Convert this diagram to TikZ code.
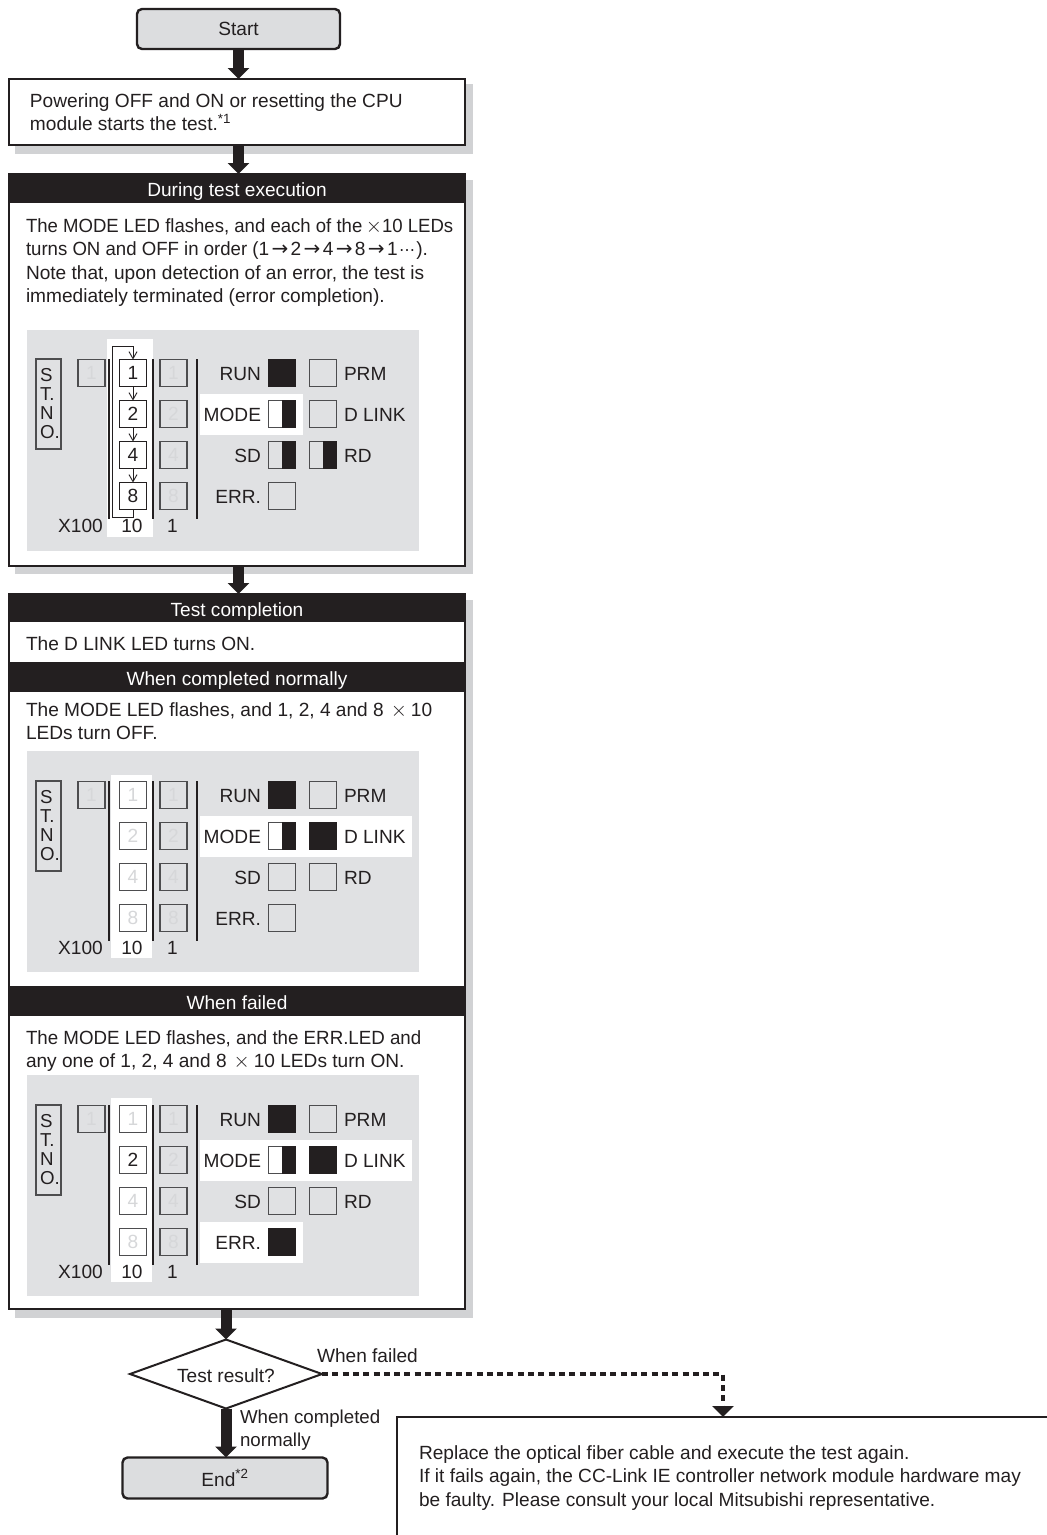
\documentclass[tikz,border=0pt]{standalone}
\usepackage{fontspec}
\setmainfont{Liberation Sans}
\newfontfamily\dejafont{DejaVu Sans}
\usetikzlibrary{shapes.geometric,arrows.meta}
\definecolor{ink}{HTML}{231F20}
\definecolor{shadowgray}{HTML}{D1D2D4}
\definecolor{panelgray}{HTML}{E0E1E3}
\definecolor{startgray}{HTML}{DCDDDF}
\definecolor{faintnum}{HTML}{D6D7D9}
\definecolor{faintline}{HTML}{4D4D4F}
\newcommand{\bigtimes}{{\fontsize{20}{20}\selectfont$\times$}}
\newcommand{\tinyarrow}{\makebox[21.5pt]{\dejafont\fontsize{20}{20}\selectfont →}}
\newcommand{\squeezed}[2]{\scalebox{#1}[1]{#2}}
\tikzset{
  every node/.style={inner sep=0pt,outer sep=0pt,text=ink,font=\fontsize{19.1}{23.4}\selectfont},
  terminal/.style={draw=ink,line width=2.4pt,fill=startgray,rounded corners=5pt,minimum width=203pt,minimum height=40pt},
  plainbox/.style={draw=ink,line width=2.4pt,fill=white,minimum width=456pt},
  header/.style={fill=ink,text=white,minimum width=458pt,minimum height=30pt,text height=17pt,text depth=0pt},
  bodytext/.style={anchor=north west,align=left},
  bigarrow/.style={draw=ink,line width=11pt,-{Triangle[length=11pt,width=21pt,fill=ink]}},
  dotarrow/.style={draw=ink,line width=4.5pt,dash pattern=on 6pt off 4.3pt,-{Triangle[length=11pt,width=21pt,fill=ink]}},
  ledbox/.style={draw=#1,line width=1.2pt,minimum width=27pt,minimum height=27pt,text height=13.7pt,text depth=0pt},
  ledbox/.default=faintline,
  lbl/.style={anchor=base east},
  lblr/.style={anchor=base west},
  divider/.style={draw=ink,line width=1.2pt},
  loopline/.style={draw=ink,line width=0.9pt},
  looparrow/.style={draw=ink,line width=0.9pt,-{Straight Barb[length=7pt,width=8pt]}},
}
\newcommand{\ledoff}[3]{\node[ledbox=faintline] (#1) at (#2,#3) {};}
\newcommand{\ledon}[3]{\node[ledbox=ink,fill=ink] (#1) at (#2,#3) {};}
\newcommand{\ledhalf}[3]{\node[ledbox=faintline] (#1) at (#2,#3) {};\fill[ink] (#2,#3-14) rectangle (#2+14,#3+14);}
\newcommand{\ledface}[6]{%
  \node[draw=faintline,line width=1.2pt,minimum width=25pt,minimum height=90pt,align=left,text width=17pt,font=\fontsize{18.7}{19}\selectfont] (#1st) at (48.5,45) {S\\T.\\N\\O.};
  \node[ledbox,text=faintnum] (#1h) at (91.5,14) {1};
  \foreach \n/\r/\c in {1/0/#2,2/1/#3,4/2/#4,8/3/#5}{
    \node[ledbox=#6,text=\c] (#1t\n) at (133,14+41*\r) {\n};
    \node[ledbox,text=faintnum] (#1u\n) at (173.5,14+41*\r) {\n};
  }
  \coordinate (#1a) at (109,0); \coordinate (#1b) at (109,160);
  \coordinate (#1c) at (153,0); \coordinate (#1d) at (153,160);
  \coordinate (#1e) at (197,0); \coordinate (#1f) at (197,160);
  \draw[divider] (#1a)--(#1b); \draw[divider] (#1c)--(#1d); \draw[divider] (#1e)--(#1f);
  \node[lbl] (#1l1) at (261,21.2) {RUN};
  \node[lbl] (#1l2) at (261,62.2) {MODE};
  \node[lbl] (#1l3) at (261,103.2) {SD};
  \node[lbl] (#1l4) at (261,144.2) {ERR.};
  \node[lblr] (#1r1) at (344,21.2) {PRM};
  \node[lblr] (#1r2) at (344,62.2) {D LINK};
  \node[lblr] (#1r3) at (344,103.2) {RD};
  \node[anchor=base] (#1x) at (80.5,173.5) {X100};
  \node[anchor=base] (#1y) at (132,173.5) {10};
  \node[anchor=base] (#1z) at (172.5,173.5) {1};
}
\begin{document}
\begin{tikzpicture}[x=1pt,y=-1pt]
\useasboundingbox (0,0) rectangle (1047,1535);
\clip (0,0) rectangle (1047,1535);
\fill[white] (0,0) rectangle (1047,1535);
% shadows
\fill[shadowgray] (15,84) rectangle (473,154);
\fill[shadowgray] (15,180) rectangle (473,574);
\fill[shadowgray] (15,600) rectangle (473,1318);
% main boxes
\node[terminal] (start) at (238.5,29) {Start};
\node[plainbox,minimum height=66pt] (power) at (237,112) {};
\node[plainbox,minimum height=392pt] (during) at (237,370) {};
\node[plainbox,minimum height=715pt] (test) at (237,951.5) {};
\node[header] (h1) at (237,188) {During test execution};
\node[header,minimum height=29pt] (h2) at (237,607.5) {Test completion};
\node[header] (h3) at (237,677) {When completed normally};
\node[header] (h4) at (237,1001) {When failed};
% body text
\node[bodytext] (t1) at (30,93.5) {Powering OFF and ON or resetting the CPU\\module starts the test.\textsuperscript{*1}};
\node[bodytext] (t2) at (26,218.5) {\squeezed{.972}{The MODE LED flashes, and each of the}\hspace{3.5pt}\bigtimes\squeezed{.972}{10 LEDs}\\\squeezed{.974}{turns ON and OFF in order (}1\tinyarrow 2\tinyarrow 4\tinyarrow 8\tinyarrow 1\makebox[18.6pt]{\dejafont\fontsize{16}{16}\selectfont ⋯}).\\Note that, upon detection of an error, the test is\\immediately terminated (error completion).};
\node[bodytext] (t3) at (26,636.5) {The D LINK LED turns ON.};
\node[bodytext] (t4) at (26,702.5) {The MODE LED flashes, and 1, 2, 4 and 8\hspace{7pt}\bigtimes\hspace{4pt}10\\LEDs turn OFF.};
\node[bodytext] (t5) at (26,1030.5) {\squeezed{.98}{The MODE LED flashes, and the ERR.LED and}\\any one of 1, 2, 4 and 8\hspace{7pt}\bigtimes\hspace{4pt}10 LEDs turn ON.};
% panel 1
\fill[panelgray] (27,330) rectangle (419,551);
\begin{scope}[shift={(0,359)}]
  \fill[white] (107,-20) rectangle (153,178);
  \fill[white] (200,35) rectangle (303,76);
  \ledface{a}{ink}{ink}{ink}{ink}{ink}
  \ledon{ar1}{282}{14}
  \ledoff{ap1}{323}{14}
  \node[ledbox=faintline,fill=white] (am1) at (282,55) {}; \fill[ink] (282,41) rectangle (296,69);
  \ledoff{ad1}{323}{55}
  \ledhalf{as1}{282}{96}
  \ledhalf{aq1}{323}{96}
  \ledoff{ae1}{282}{137}
  \coordinate (aloopa) at (112,-13);
  \coordinate (aloopb) at (112,158);
  \draw[looparrow] (aloopb) -- (aloopa) -| (at1.north);
  \draw[loopline] (at8.south) |- (aloopb);
  \draw[looparrow] (at1.south) -- (at2.north);
  \draw[looparrow] (at2.south) -- (at4.north);
  \draw[looparrow] (at4.south) -- (at8.north);
\end{scope}
% panel 2
\fill[panelgray] (27,751) rectangle (419,972);
\begin{scope}[shift={(0,781)}]
  \fill[white] (111,-6) rectangle (152,177);
  \fill[white] (200,34.5) rectangle (412,75.5);
  \ledface{b}{faintnum}{faintnum}{faintnum}{faintnum}{faintline}
  \ledon{br1}{282}{14}
  \ledoff{bp1}{323}{14}
  \node[ledbox=faintline,fill=white] (bm1) at (282,55) {}; \fill[ink] (282,41) rectangle (296,69);
  \ledon{bd1}{323}{55}
  \ledoff{bs1}{282}{96}
  \ledoff{bq1}{323}{96}
  \ledoff{be1}{282}{137}
\end{scope}
% panel 3
\fill[panelgray] (27,1075) rectangle (419,1296);
\begin{scope}[shift={(0,1105)}]
  \fill[white] (111,-7) rectangle (152,177);
  \fill[white] (200,34.5) rectangle (412,75.5);
  \fill[white] (200,116.5) rectangle (303,157.5);
  \ledface{c}{faintnum}{ink}{faintnum}{faintnum}{faintline}
  \ledon{cr1}{282}{14}
  \ledoff{cp1}{323}{14}
  \node[ledbox=faintline,fill=white] (cm1) at (282,55) {}; \fill[ink] (282,41) rectangle (296,69);
  \ledon{cd1}{323}{55}
  \ledoff{cs1}{282}{96}
  \ledoff{cq1}{323}{96}
  \ledon{ce1}{282}{137}
\end{scope}
% lower part
\node[diamond,draw=ink,line width=2pt,fill=white,aspect=2.78,minimum width=192pt,minimum height=69pt,text height=16pt,text depth=0pt] (dec) at (226,1374) {Test result?};
\node[terminal,minimum width=205pt,minimum height=41pt] (endnode) at (225,1478) {End\textsuperscript{*2}};
\node[draw=ink,line width=2pt,fill=white,minimum width=652pt,minimum height=140pt,anchor=north] (fix) at (723,1417) {};
\node[anchor=north west,align=left] (fixt) at (419,1445.5) {\frenchspacing Replace the optical fiber cable and execute the test again.\\If it fails again, the CC-Link IE controller network module hardware may\\be faulty. Please consult your local Mitsubishi representative.};
\node[anchor=base west] (lf) at (317,1362) {When failed};
\node[anchor=north west,align=left,font=\fontsize{18.7}{23.4}\selectfont] (lc) at (240,1410) {When completed\\normally};
% connectors
\draw[bigarrow] (start.south) -- (start.south |- power.north);
\draw[bigarrow] (start.south |- power.south) -- (start.south |- during.north);
\draw[bigarrow] (start.south |- during.south) -- (start.south |- test.north);
\draw[bigarrow] (dec.north |- test.south) -- (dec.north);
\draw[bigarrow] (dec.south) -- (dec.south |- endnode.north);
\draw[dotarrow] (dec.east) -| (fix.north);
\end{tikzpicture}
\end{document}
